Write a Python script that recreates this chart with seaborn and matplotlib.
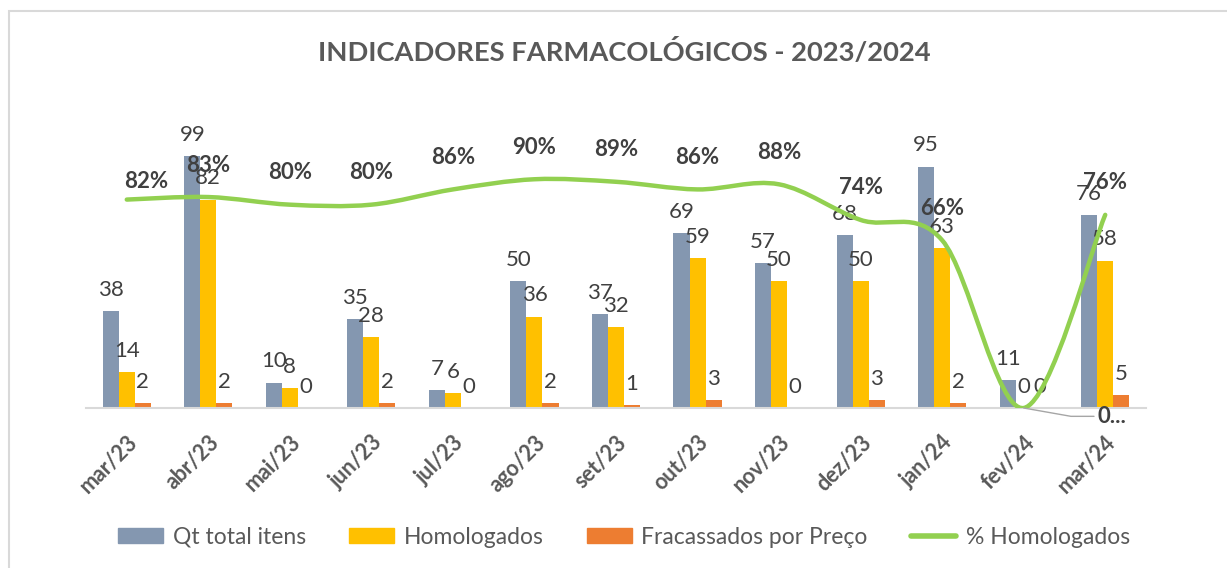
import pandas as pd
import matplotlib.pyplot as plt
import seaborn as sns
from matplotlib.path import Path
from matplotlib.patches import PathPatch, Patch, Rectangle
from matplotlib.lines import Line2D

# dados
meses = ['mar/23', 'abr/23', 'mai/23', 'jun/23', 'jul/23', 'ago/23', 'set/23',
         'out/23', 'nov/23', 'dez/23', 'jan/24', 'fev/24', 'mar/24']
qt_total = [38, 99, 10, 35, 7, 50, 37, 69, 57, 68, 95, 11, 76]
homologados = [14, 82, 8, 28, 6, 36, 32, 59, 50, 50, 63, 0, 58]
fracassados = [2, 2, 0, 2, 0, 2, 1, 3, 0, 3, 2, 0, 5]
pct_homologados = [0.82, 0.83, 0.80, 0.80, 0.86, 0.90, 0.89, 0.86, 0.88, 0.74, 0.66, 0.0, 0.76]

series = ['Qt total itens', 'Homologados', 'Fracassados por Preço']
cores = ['#8497B0', '#FFC000', '#ED7D31']
verde = '#92D050'
cinza_txt = '#595959'
cinza_lbl = '#404040'
cinza_eixo = '#D9D9D9'


# Funcion curva suavizada tipo excel (bezier entre os pontos)
def Curva_Suave(xs, ys):
    pts = list(zip(xs, ys))
    n = len(pts)
    verts = [pts[0]]
    codes = [Path.MOVETO]
    for i in range(n - 1):
        p0 = pts[i - 1] if i > 0 else pts[i]
        p1 = pts[i]
        p2 = pts[i + 1]
        p3 = pts[i + 2] if i + 2 < n else pts[i + 1]
        c1 = (p1[0] + (p2[0] - p0[0]) / 6, p1[1] + (p2[1] - p0[1]) / 6)
        c2 = (p2[0] - (p3[0] - p1[0]) / 6, p2[1] - (p3[1] - p1[1]) / 6)
        verts += [c1, c2, p2]
        codes += [Path.CURVE4] * 3
    return Path(verts, codes)


df = pd.DataFrame({'mes': meses, series[0]: qt_total,
                   series[1]: homologados, series[2]: fracassados})
df_long = df.melt(id_vars='mes', var_name='serie', value_name='valor')

sns.set_style('white')
plt.rcParams['font.family'] = ['Lato', 'DejaVu Sans']

fig = plt.figure(figsize=(12.27, 5.68), dpi=100)
ax = fig.add_axes([86 / 1227, 160 / 568, 1060 / 1227, 305 / 568])

sns.barplot(data=df_long, x='mes', y='valor', hue='serie', order=meses,
            hue_order=series, palette=cores, saturation=1, width=0.59,
            gap=0, legend=False, ax=ax, linewidth=0)

for cont in ax.containers:
    ax.bar_label(cont, fmt='%g', padding=8, fontsize=16, color=cinza_lbl)

ax.set_xlim(-0.5, len(meses) - 0.5)
ax.set_ylim(0, 120)
ax.set_xlabel('')
ax.set_ylabel('')
ax.set_yticks([])
for lado in ['top', 'right', 'left']:
    ax.spines[lado].set_visible(False)
ax.spines['bottom'].set_color(cinza_eixo)
ax.spines['bottom'].set_linewidth(1.5)

ax.set_xticks(range(len(meses)))
ax.set_xticklabels(meses, rotation=45, ha='right', rotation_mode='anchor',
                   fontsize=15.5, fontweight='bold', color=cinza_txt)
ax.tick_params(axis='x', which='major', length=0, pad=17)
ax.set_xticks([i - 0.5 for i in range(len(meses) + 1)], minor=True)
ax.tick_params(axis='x', which='minor', length=6, width=1.5, color=cinza_eixo)

# eixo secundario para o percentual
ax2 = ax.twinx()
ax2.set_ylim(0, 1.2)
ax2.set_yticks([])
for lado in ax2.spines:
    ax2.spines[lado].set_visible(False)
curva = Curva_Suave(range(len(meses)), pct_homologados)
ax2.add_patch(PathPatch(curva, fill=False, ec=verde, lw=3.2, capstyle='round'))

for i, p in enumerate(pct_homologados):
    if p == 0:
        ax2.annotate('0...', (i, p), xytext=(53, -6), textcoords='offset points',
                     ha='left', va='center', fontsize=16, fontweight='bold',
                     color=cinza_lbl,
                     arrowprops=dict(arrowstyle='-', color='#A6A6A6', lw=1,
                                     shrinkA=0, shrinkB=0,
                                     connectionstyle='angle,angleA=0,angleB=-10,rad=0'))
        continue
    dx, dy = (14, 13) if i == 0 else (0, 23)
    ax2.annotate(f'{p:.0%}', (i, p), xytext=(dx, dy), textcoords='offset points',
                 ha='center', va='center', fontsize=16, fontweight='bold',
                 color=cinza_lbl)

fig.text(624 / 1227, 1 - 52 / 568, 'INDICADORES FARMACOLÓGICOS - 2023/2024',
         ha='center', va='center', fontsize=19.7, fontweight='bold', color=cinza_txt)

handles = [Patch(color=c) for c in cores] + [Line2D([], [], color=verde, lw=4)]
labels = series + ['% Homologados']
fig.legend(handles, labels, loc='center', bbox_to_anchor=(624 / 1227, 1 - 537 / 568),
           ncol=4, frameon=False, fontsize=16.5, labelcolor=cinza_txt,
           handlelength=1.95, handleheight=0.6, handletextpad=0.42, columnspacing=1.9)

fig.add_artist(Rectangle((9 / 1227, -0.1), 1.2, 1 - 11 / 568 + 0.1,
                         transform=fig.transFigure, fill=False,
                         ec=cinza_eixo, lw=1.5))

fig.savefig('out.png', dpi=100)
